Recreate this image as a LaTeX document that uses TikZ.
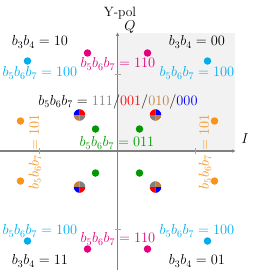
\documentclass[tikz,border=0pt]{standalone}
\usetikzlibrary{arrows.meta}
\definecolor{cmag}{RGB}{230,0,126}
\definecolor{ccyan}{RGB}{0,174,239}
\definecolor{corange}{RGB}{247,148,29}
\definecolor{cgreen}{RGB}{0,153,0}
\definecolor{cbrown}{RGB}{191,128,64}
\definecolor{cgray}{RGB}{128,128,128}
\definecolor{cshade}{RGB}{242,242,242}
\tikzset{
  lbl/.style={inner sep=0pt,font=\fontsize{14}{16}\selectfont},
  axlbl/.style={inner sep=0pt,font=\fontsize{13.5}{15}\selectfont},
  dot/.style={circle,fill=#1,inner sep=0pt,minimum size=7.5pt},
  axis/.style={draw=cgray,line width=1.1pt,-{Latex[length=4pt,width=3.5pt]}},
  tick/.style={draw=cgray!70,line width=0.5pt}
}
\newcommand{\quadpie}[5]{% center, TL, TR, BL, BR
  \fill[#3] (#1) -- ++(6pt,0) arc[start angle=0,end angle=90,radius=6pt] -- cycle;
  \fill[#2] (#1) -- ++(0,6pt) arc[start angle=90,end angle=180,radius=6pt] -- cycle;
  \fill[#4] (#1) -- ++(-6pt,0) arc[start angle=180,end angle=270,radius=6pt] -- cycle;
  \fill[#5] (#1) -- ++(0,-6pt) arc[start angle=270,end angle=360,radius=6pt] -- cycle;
  \draw[white,line width=0.4pt] (#1) circle[radius=6.2pt];
}
\begin{document}
\begin{tikzpicture}[x=1pt,y=-1pt]
\useasboundingbox (0,0) rectangle (257,270);
% shading
\fill[cshade] (118,33) rectangle (235,151);
% axes
\coordinate (O) at (117.5,151);
\coordinate (xl) at (0,151);
\coordinate (xr) at (236,151);
\coordinate (yb) at (117.5,270);
\coordinate (yt) at (117.5,32);
\draw[axis] (xl) -- (xr);
\draw[axis] (yb) -- (yt);
% ticks
\coordinate (t1) at (39.5,151);
\coordinate (t2) at (195.5,151);
\coordinate (t3) at (117.5,74);
\coordinate (t4) at (117.5,229);
\draw[tick] ([yshift=-3pt]t1) -- ([yshift=3pt]t1);
\draw[tick] ([yshift=-3pt]t2) -- ([yshift=3pt]t2);
\draw[tick] ([xshift=-3pt]t3) -- ([xshift=3pt]t3);
\draw[tick] ([xshift=-3pt]t4) -- ([xshift=3pt]t4);
% axis labels
\node[axlbl] (ypol) at (120,13) {Y-pol};
\node[axlbl] (Q) at (130,27) {$Q$};
\node[axlbl] (I) at (245,139) {$I$};
% dots
\node[dot=cmag] (m1) at (87.5,53) {};
\node[dot=cmag] (m2) at (147.5,53) {};
\node[dot=cmag] (m3) at (87.5,249) {};
\node[dot=cmag] (m4) at (147.5,249) {};
\node[dot=ccyan] (c1) at (27.5,61) {};
\node[dot=ccyan] (c2) at (207.5,61) {};
\node[dot=ccyan] (c3) at (27.5,241) {};
\node[dot=ccyan] (c4) at (207.5,241) {};
\node[dot=corange] (o1) at (20.5,121) {};
\node[dot=corange] (o2) at (214.5,121) {};
\node[dot=corange] (o3) at (20.5,181) {};
\node[dot=corange] (o4) at (214.5,181) {};
\node[dot=cgreen] (g1) at (95.5,129) {};
\node[dot=cgreen] (g2) at (139.5,129) {};
\node[dot=cgreen] (g3) at (95.5,173) {};
\node[dot=cgreen] (g4) at (139.5,173) {};
% quad points
\coordinate (q1) at (79.5,115);
\coordinate (q2) at (155.5,115);
\coordinate (q3) at (79.5,187);
\coordinate (q4) at (155.5,187);
\quadpie{q1}{blue}{red}{cbrown}{cgray}
\quadpie{q2}{red}{blue}{cgray}{cbrown}
\quadpie{q3}{cbrown}{cgray}{blue}{red}
\quadpie{q4}{cgray}{cbrown}{red}{blue}
% labels
\node[lbl] (l10) at (40,42) {$b_3b_4=10$};
\node[lbl] (l00) at (197,42) {$b_3b_4=00$};
\node[lbl] (l11) at (40,261) {$b_3b_4=11$};
\node[lbl] (l01) at (197,261) {$b_3b_4=01$};
\node[lbl,text=ccyan] (cl1) at (40,73) {$b_5b_6b_7=100$};
\node[lbl,text=ccyan] (cl2) at (197,73) {$b_5b_6b_7=100$};
\node[lbl,text=ccyan] (cl3) at (40,231) {$b_5b_6b_7=100$};
\node[lbl,text=ccyan] (cl4) at (197,231) {$b_5b_6b_7=100$};
\node[lbl,text=cmag] (ml1) at (118,64) {$b_5b_6b_7=110$};
\node[lbl,text=cmag] (ml2) at (118,239) {$b_5b_6b_7=110$};
\node[lbl] (long) at (118,102) {$b_5b_6b_7=\textcolor{cgray}{111}/\textcolor{red}{001}/\textcolor{cbrown}{010}/\textcolor{blue}{000}$};
\node[lbl,text=cgreen] (gl) at (117,143) {$b_5b_6b_7=011$};
\node[lbl,text=corange,rotate=90] (ol1) at (35,152) {$b_5b_6b_7=101$};
\node[lbl,text=corange,rotate=90] (ol2) at (205,152) {$b_5b_6b_7=101$};
\end{tikzpicture}
\end{document}
